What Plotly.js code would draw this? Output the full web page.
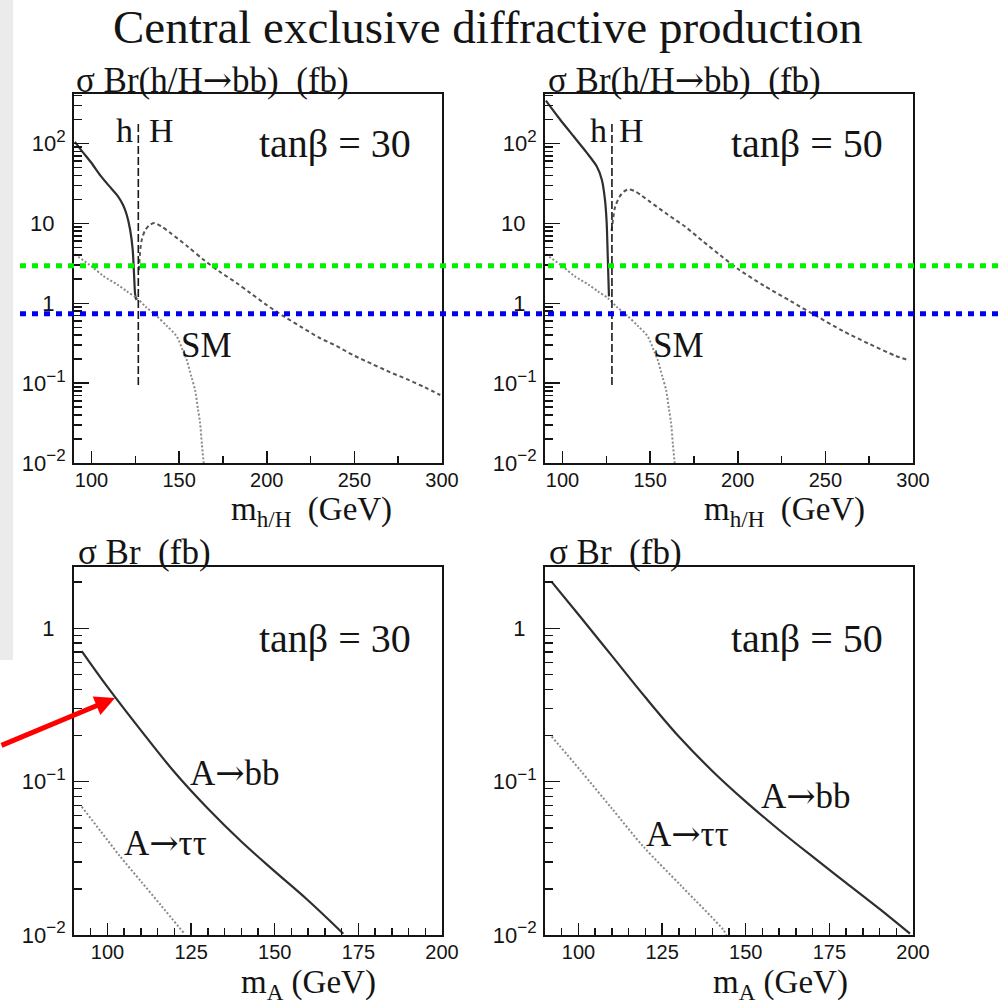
<!DOCTYPE html>
<html><head><meta charset="utf-8">
<script src="https://cdn.plot.ly/plotly-3.0.1.min.js"></script>
<style>html,body{margin:0;padding:0;background:#fff;}#chart{width:1003px;height:1008px;}</style>
</head><body><div id="chart"></div>
<script>
// ---------------- data ----------------
// top panels: sigma*Br(h/H -> bb) in fb vs m_h/H (GeV)
const h30Mass = [90.5, 95, 100, 105, 110, 115, 118, 120, 122, 123.5, 124.3, 124.8, 125.3, 125.8];
const h30Xsec = [105, 78, 57, 40, 29.5, 22, 17, 13, 8.4, 4.7, 2.2, 1.35, 1.15, 1.1];
const H30Mass = [127, 128.5, 130.5, 133, 136, 140, 145, 155, 164, 173, 183, 190.5, 200, 210, 220, 230, 240, 250, 260, 270, 280, 290, 299];
const H30Xsec = [2.6, 6.0, 8.1, 9.5, 10.1, 9.1, 7.6, 5.1, 3.5, 2.5, 1.78, 1.35, 0.95, 0.68, 0.50, 0.37, 0.29, 0.22, 0.174, 0.138, 0.112, 0.089, 0.071];
const h50Mass = [90.5, 98.6, 106.2, 113.8, 119.5, 122.4, 124.2, 125.2, 125.8, 126.5];
const h50Xsec = [345, 200, 124, 77, 52, 35.5, 20, 10.2, 3.9, 1.22];
const H50Mass = [128, 129, 130, 132.5, 135, 137.5, 141, 145, 150, 160, 170, 180, 190, 200, 215, 230, 245, 260, 275, 290, 297];
const H50Xsec = [8, 12, 16, 21.5, 25, 26.6, 25.5, 22.4, 18.6, 12.9, 9.1, 6.0, 4.0, 2.7, 1.66, 1.07, 0.69, 0.45, 0.31, 0.22, 0.195];
const smMass = [90.5, 100, 106.7, 115, 120, 125.8, 131, 137.2, 143, 148.6, 152, 154.3, 157, 159.1, 160.7, 161.9, 163, 164];
const smXsec = [4.1, 2.9, 2.2, 1.7, 1.42, 1.16, 0.9, 0.69, 0.52, 0.385, 0.26, 0.196, 0.12, 0.082, 0.048, 0.032, 0.017, 0.0100];
const hHBoundary30 = [126.7, 126.7];
const hHBoundary50 = [128.2, 128.2];
const hHBoundaryY = [0.095, 190];
// bottom panels: sigma*Br(A) in fb vs m_A (GeV)
const Abb30Mass = [92.3, 100, 110, 120, 130, 140, 150, 160, 170.5];
const Abb30Xsec = [0.711, 0.415, 0.216, 0.1156, 0.0668, 0.0407, 0.026, 0.0168, 0.0102];
const Att30Mass = [92.3, 98, 103.8, 110, 116, 123];
const Att30Xsec = [0.0687, 0.0474, 0.0325, 0.0224, 0.0156, 0.0102];
const Abb50Mass = [92, 100, 110, 120, 130, 140, 150, 160, 170, 180, 190, 199.1];
const Abb50Xsec = [2.01, 1.23, 0.661, 0.355, 0.197, 0.1175, 0.0741, 0.0484, 0.0324, 0.0219, 0.0148, 0.0102];
const Att50Mass = [92, 100.5, 110, 119.4, 131, 143.3, 144.2];
const Att50Xsec = [0.197, 0.119, 0.0668, 0.0377, 0.0206, 0.0108, 0.0100];
// overlay reference levels (fb, on the top-left scale)
const greenLevel = 2.95;
const blueLevel = 0.74;
// tick labels
const SUP = s => '10<sup><span style="font-size:17px">' + s + '</span></sup>';
const topXTicks = [100, 150, 200, 250, 300];
const topXMinor = [125, 175, 225, 275];
const botXTicks = [100, 125, 150, 175, 200];
const topYTicks = [0.01, 0.1, 1, 10, 100];
const topYText = [SUP('\u22122'), SUP('\u22121'), '1\u2002', '10\u2002', SUP('2')];
const botYTicks = [0.01, 0.1, 1];
const botYText = [SUP('\u22122'), SUP('\u22121'), '1\u2002'];

// ---------------- layout helpers ----------------
const W = 1003, H = 1008;
const px = x => x / W;
const py = y => 1 - y / H;
const INK = '#141414';
const SERIF = '"Liberation Serif", "Times New Roman", serif';
const SANS = '"Liberation Sans", Arial, sans-serif';
const ARROW = '<span style="font-family:\'DejaVu Serif\'">\u2192</span>';

function logMinor(lo, hi) {
  const out = [];
  for (let d = lo; d <= hi; d++) for (let k = 2; k <= 9; k++) out.push(k * Math.pow(10, d));
  return out;
}
const botXMinor = [];
for (let v = 95; v <= 200; v += 5) if (botXTicks.indexOf(v) < 0) botXMinor.push(v);

function xAxis(domain, anchor, range, ticks, minor) {
  return {
    domain: domain, anchor: anchor, range: range, showline: true, mirror: true,
    linecolor: INK, linewidth: 2, ticks: 'inside', ticklen: 12, tickwidth: 1.5, tickcolor: INK,
    tickmode: 'array', tickvals: ticks, ticktext: ticks.map(String),
    minor: {tickmode: 'array', tickvals: minor, ticks: 'inside', ticklen: 7, tickwidth: 1.5, tickcolor: INK},
    showgrid: false, zeroline: false, ticklabelstandoff: -2,
    tickfont: {family: SANS, size: 20, color: INK}
  };
}
function yAxis(domain, anchor, range, ticks, text, minor) {
  return {
    domain: domain, anchor: anchor, type: 'log', range: range, showline: true, mirror: true,
    linecolor: INK, linewidth: 2, ticks: 'inside', ticklen: 15, tickwidth: 1.5, tickcolor: INK,
    tickmode: 'array', tickvals: ticks, ticktext: text,
    minor: {tickmode: 'array', tickvals: minor, ticks: 'inside', ticklen: 8, tickwidth: 1.5, tickcolor: INK},
    showgrid: false, zeroline: false, ticklabelstandoff: 2,
    tickfont: {family: SANS, size: 22, color: INK}
  };
}

const solid = {color: '#2e2e2e', width: 2.2, shape: 'spline', smoothing: 1};
const dashed = {color: '#555', width: 2, dash: '4px,3px', shape: 'spline', smoothing: 0.8};
const dotted = {color: '#8a8a8a', width: 2, dash: '2px,2px', shape: 'spline', smoothing: 0.8};
const vdash = {color: '#1a1a1a', width: 1.6, dash: '8px,3px'};

function tr(x, y, xa, ya, line) {
  return {x: x, y: y, xaxis: xa, yaxis: ya, type: 'scatter', mode: 'lines', line: line, hoverinfo: 'skip'};
}

const data = [
  tr(h30Mass, h30Xsec, 'x', 'y', Object.assign({}, solid, {smoothing: 0.6})),
  tr(H30Mass, H30Xsec, 'x', 'y', dashed),
  tr(smMass, smXsec, 'x', 'y', dotted),
  tr(hHBoundary30, hHBoundaryY, 'x', 'y', vdash),
  tr(h50Mass, h50Xsec, 'x2', 'y2', Object.assign({}, solid, {smoothing: 0.6})),
  tr(H50Mass, H50Xsec, 'x2', 'y2', dashed),
  tr(smMass, smXsec, 'x2', 'y2', dotted),
  tr(hHBoundary50, hHBoundaryY, 'x2', 'y2', vdash),
  tr(Abb30Mass, Abb30Xsec, 'x3', 'y3', solid),
  tr(Att30Mass, Att30Xsec, 'x3', 'y3', dotted),
  tr(Abb50Mass, Abb50Xsec, 'x4', 'y4', solid),
  tr(Att50Mass, Att50Xsec, 'x4', 'y4', dotted)
];

const topY = [py(463), py(94)];
const botY = [py(935), py(567)];
const leftX = [px(74), px(442)];
const rightX = [px(545), px(913)];

function label(text, xLeft, baseline, size, extra) {
  return Object.assign({
    xref: 'paper', yref: 'paper', x: px(xLeft), y: py(baseline - 0.3375 * size),
    xanchor: 'left', yanchor: 'middle', showarrow: false, text: text,
    font: {family: SERIF, size: size, color: INK}, borderpad: 0
  }, extra || {});
}

const annotations = [
  label('Central exclusive diffractive production', 488, 43, 47, {xanchor: 'center'}),
  label('\u03c3 Br(h/H' + ARROW + 'bb)  (fb)', 75, 92, 35),
  label('\u03c3 Br(h/H' + ARROW + 'bb)  (fb)', 547, 92, 35),
  label('h', 115, 142, 34), label('H', 148, 142, 34),
  label('h', 589, 142, 34), label('H', 618, 142, 34),
  label('tan\u03b2 = 30', 258, 157, 40),
  label('tan\u03b2 = 50', 730, 157, 40),
  label('SM', 180, 357, 35), label('SM', 652, 357, 35),
  label('m<sub>h/H</sub>  (GeV)', 230, 523, 33),
  label('m<sub>h/H</sub>  (GeV)', 703, 523, 33),
  label('\u03c3 Br  (fb)', 77, 564, 35),
  label('\u03c3 Br  (fb)', 548, 564, 35),
  label('tan\u03b2 = 30', 258, 652, 40),
  label('tan\u03b2 = 50', 730, 652, 40),
  label('A' + ARROW + 'bb', 189, 785, 35),
  label('A' + ARROW + '\u03c4\u03c4', 123, 855, 35),
  label('A' + ARROW + 'bb', 760, 808, 35),
  label('A' + ARROW + '\u03c4\u03c4', 645, 846, 35),
  label('m<sub>A</sub> (GeV)', 240, 996, 33),
  label('m<sub>A</sub> (GeV)', 712, 996, 33),
  {xref: 'paper', yref: 'paper', x: px(115), y: py(698), ax: -125, ay: 48, text: '',
   showarrow: true, arrowhead: 2, arrowsize: 0.8, arrowwidth: 5, arrowcolor: '#ff0000', standoff: 0}
];

const shapes = [
  {type: 'rect', xref: 'paper', yref: 'paper', x0: 0, x1: px(13), y0: py(660), y1: 1,
   fillcolor: '#ebebeb', line: {width: 0}, layer: 'below'},
  {type: 'line', xref: 'paper', yref: 'y', x0: px(20), x1: 1, y0: greenLevel, y1: greenLevel,
   line: {color: '#00ee00', width: 5, dash: '6px,6px'}},
  {type: 'line', xref: 'paper', yref: 'y', x0: px(20), x1: 1, y0: blueLevel, y1: blueLevel,
   line: {color: '#0000ee', width: 5, dash: '6px,6px'}}
];

const layout = {
  width: W, height: H, margin: {l: 0, r: 0, t: 0, b: 0},
  paper_bgcolor: '#ffffff', plot_bgcolor: '#ffffff', showlegend: false,
  xaxis: xAxis(leftX, 'y', [90, 300], topXTicks, topXMinor),
  yaxis: yAxis(topY, 'x', [-2, 2.62], topYTicks, topYText, logMinor(-2, 2)),
  xaxis2: xAxis(rightX, 'y2', [90, 300], topXTicks, topXMinor),
  yaxis2: yAxis(topY, 'x2', [-2, 2.62], topYTicks, topYText, logMinor(-2, 2)),
  xaxis3: xAxis(leftX, 'y3', [90, 200], botXTicks, botXMinor),
  yaxis3: yAxis(botY, 'x3', [-2, 0.4], botYTicks, botYText, logMinor(-2, 0)),
  xaxis4: xAxis(rightX, 'y4', [90, 200], botXTicks, botXMinor),
  yaxis4: yAxis(botY, 'x4', [-2, 0.4], botYTicks, botYText, logMinor(-2, 0)),
  annotations: annotations,
  shapes: shapes
};

Plotly.newPlot('chart', data, layout, {displayModeBar: false, staticPlot: true});
</script></body></html>
